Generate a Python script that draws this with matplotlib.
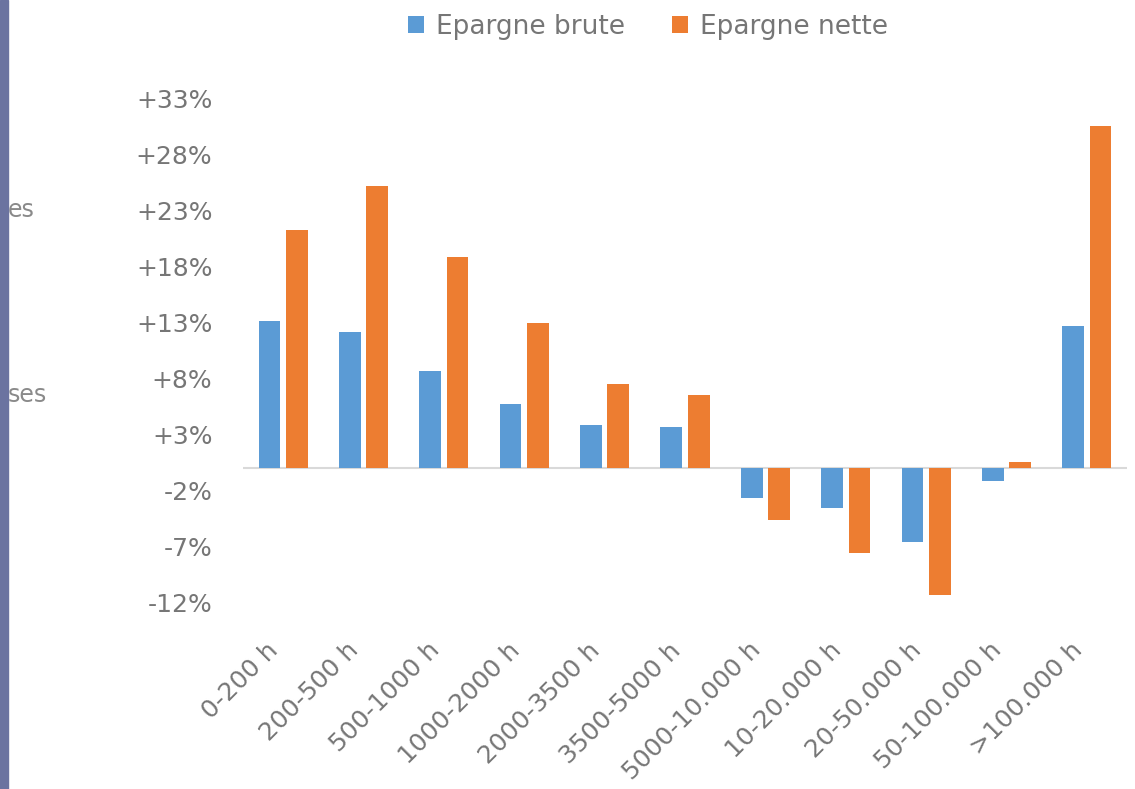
import matplotlib
matplotlib.use("Agg")
import matplotlib.pyplot as plt
from matplotlib.patches import Rectangle
import numpy as np

categories = ["0-200 h", "200-500 h", "500-1000 h", "1000-2000 h", "2000-3500 h",
              "3500-5000 h", "5000-10.000 h", "10-20.000 h", "20-50.000 h",
              "50-100.000 h", ">100.000 h"]
epargne_brute = [13.1, 12.1, 8.6, 5.7, 3.8, 3.6, -2.7, -3.6, -6.6, -1.2, 12.6]
epargne_nette = [21.2, 25.1, 18.8, 12.9, 7.5, 6.5, -4.7, -7.6, -11.4, 0.5, 30.5]
ytick_values = [-12, -7, -2, 3, 8, 13, 18, 23, 28, 33]
series_names = ["Epargne brute", "Epargne nette"]

TXT = "#767676"
BLUE = "#5B9BD5"
ORANGE = "#ED7D31"

W, H = 1135, 789
fig = plt.figure(figsize=(W / 100, H / 100), dpi=100)
ax = fig.add_axes([243 / W, 1 - 602 / H, (1127 - 243) / W, (602 - 98) / H])

x = np.arange(len(categories))
bw = 0.27
b1 = ax.bar(x - 0.17, epargne_brute, bw, color=BLUE, label=series_names[0])
b2 = ax.bar(x + 0.17, epargne_nette, bw, color=ORANGE, label=series_names[1])

ax.set_xlim(-0.5, len(categories) - 0.5)
ax.set_ylim(-12, 33)
ax.axhline(0, color="#d9d9d9", lw=1.5, zorder=0)

ax.set_yticks(ytick_values)
ax.set_yticklabels([("+%d%%" % v) if v > 0 else ("%d%%" % v) for v in ytick_values])
ax.tick_params(axis="y", length=0, pad=22, labelsize=18, labelcolor=TXT)

ax.set_xticks(x)
ax.set_xticklabels(categories, rotation=45, ha="right", rotation_mode="default")
ax.tick_params(axis="x", length=0, pad=26, labelsize=18, labelcolor=TXT)
for lbl in ax.get_xticklabels():
    lbl.set_x(lbl.get_position()[0])

for s in ax.spines.values():
    s.set_visible(False)

leg = fig.legend(handles=[b1, b2], labels=series_names, loc="center",
                 bbox_to_anchor=(648 / W, 1 - 27 / H), ncol=2, frameon=False,
                 fontsize=19, handlelength=0.6, handleheight=0.6,
                 columnspacing=1.8, handletextpad=0.45)
for t in leg.get_texts():
    t.set_color(TXT)

# fragments of neighbouring text at left edge
fig.text(8 / W, 1 - 210 / H, "es", fontsize=17, color="#8a8a8a", va="center", ha="left")
fig.text(8 / W, 1 - 395 / H, "ses", fontsize=17, color="#8a8a8a", va="center", ha="left")
fig.patches.append(Rectangle((0, 0), 8 / W, 1, transform=fig.transFigure,
                             color="#6b73a0", zorder=10))

fig.savefig("out.png", dpi=100)
